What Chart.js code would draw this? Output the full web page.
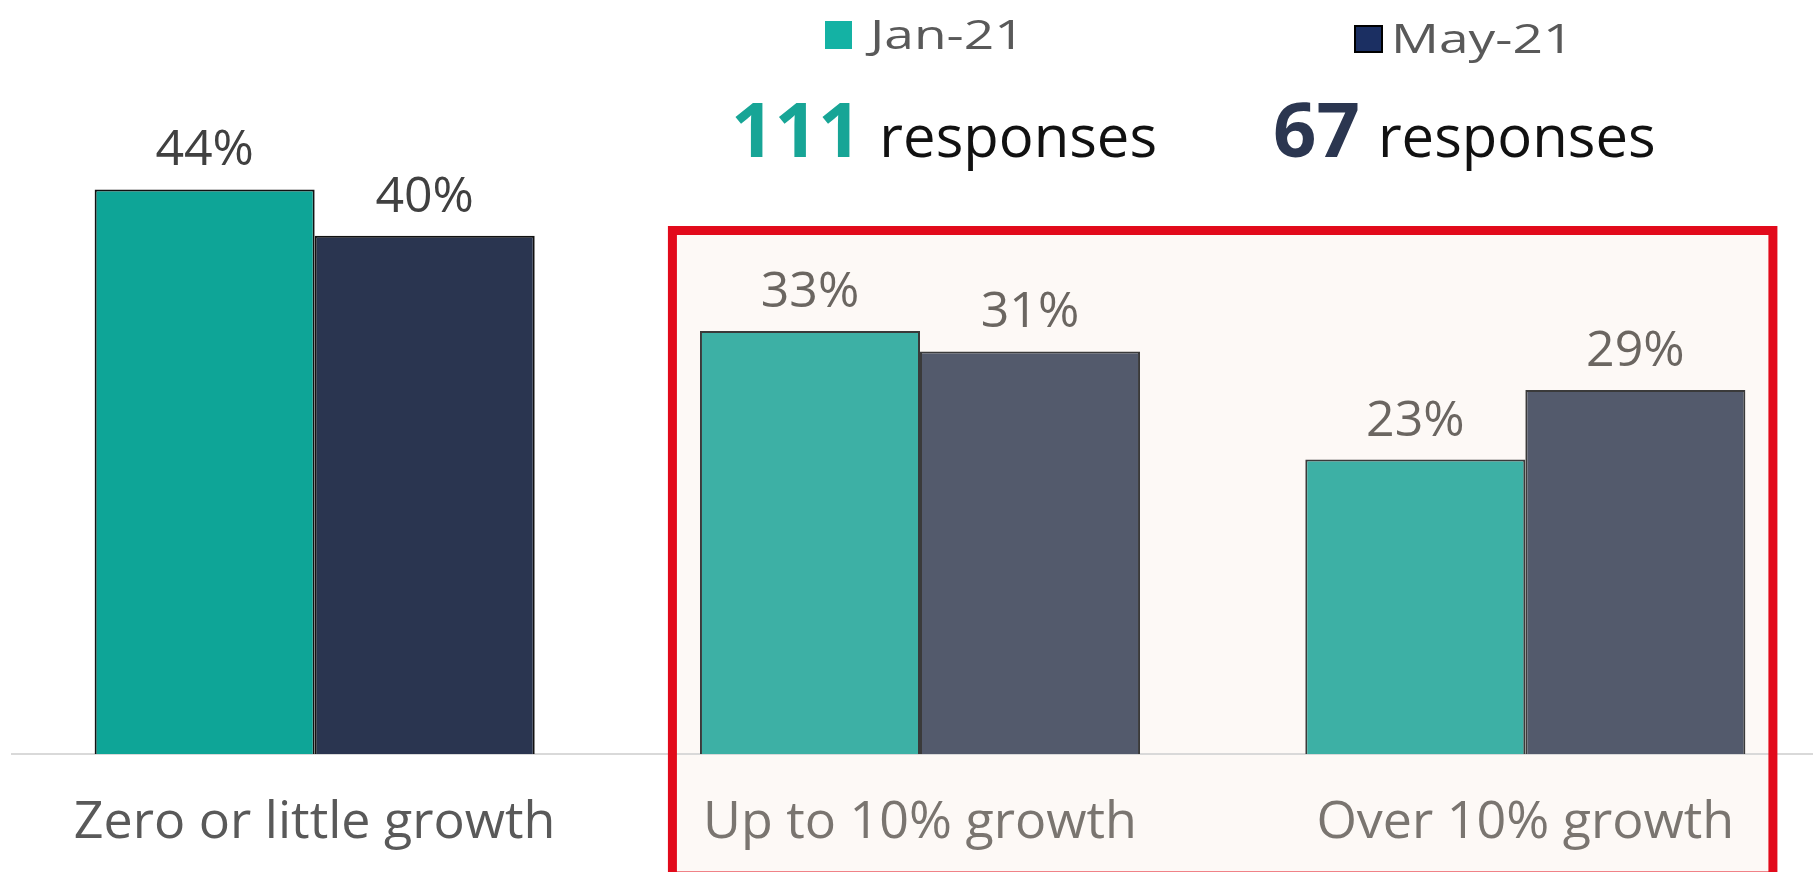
<!DOCTYPE html>
<html>
<head>
<meta charset="utf-8">
<script src="https://cdn.jsdelivr.net/npm/chart.js@4.4.1/dist/chart.umd.min.js"></script>
<style>
  html, body { margin: 0; padding: 0; background: #fff; overflow: hidden; }
  #wrap { width: 1828px; height: 872px; }
</style>
</head>
<body>
<div id="wrap"><canvas id="growthChart" width="1828" height="872"></canvas></div>
<script>
// ==== Data ====
const categories = ['Zero or little growth', 'Up to 10% growth', 'Over 10% growth'];
const seriesNames = ['Jan-21', 'May-21'];
const janValues = [43.9, 32.9, 22.9];
const mayValues = [40.3, 31.3, 28.3];
const janLabels = ['44%', '33%', '23%'];
const mayLabels = ['40%', '31%', '29%'];
const responseCounts = [111, 67];

const FONT = "'Open Sans', 'DejaVu Sans', sans-serif";

// red highlight box around the last two categories
function boxRect(chart) {
    const x = chart.scales.x;
    const step = x.getPixelForValue(1) - x.getPixelForValue(0);
    return {
        left: x.getPixelForValue(1) - step * 0.409,
        right: x.getPixelForValue(2) + step * 0.409,
        top: 230.5,
        bottom: chart.height + 4
    };
}

const decorPlugin = {
    id: 'decor',
    beforeDraw(chart) {
        const c = chart.ctx;
        c.save();
        c.fillStyle = '#ffffff';
        c.fillRect(0, 0, chart.width, chart.height);
        const b = boxRect(chart);
        c.fillStyle = '#fdf9f6';
        c.fillRect(b.left, b.top, b.right - b.left, b.bottom - b.top);
        c.restore();
    },
    afterDatasetsDraw(chart) {
        // value labels above bars
        const c = chart.ctx;
        const labelSets = [janLabels, mayLabels];
        c.save();
        c.font = '50px ' + FONT;
        c.textAlign = 'center';
        c.textBaseline = 'alphabetic';
        chart.data.datasets.forEach((ds, i) => {
            chart.getDatasetMeta(i).data.forEach((bar, j) => {
                c.fillStyle = j === 0 ? '#404040' : '#6b6661';
                c.fillText(labelSets[i][j], bar.x, bar.y - 24);
            });
        });
        c.restore();
    },
    afterDraw(chart) {
        const c = chart.ctx;
        c.save();
        // box border
        const b = boxRect(chart);
        c.strokeStyle = '#e20a1b';
        c.lineWidth = 9;
        c.strokeRect(b.left, b.top, b.right - b.left, b.bottom - b.top);

        // legend
        const legend = [
            { x: 825, y: 21, w: 27, h: 28, gap: 18, fill: '#14b2a4', stroke: '#14b2a4' },
            { x: 1354, y: 25, w: 29, h: 28, gap: 8, fill: '#1b2f62', stroke: '#000000' }
        ];
        legend.forEach((it, i) => {
            c.fillStyle = it.fill;
            c.fillRect(it.x, it.y, it.w, it.h);
            c.strokeStyle = it.stroke;
            c.lineWidth = 2;
            c.strokeRect(it.x + 1, it.y + 1, it.w - 2, it.h - 2);
            c.save();
            c.translate(it.x + it.w + it.gap, it.y + it.h);
            c.scale(1.3, 1);
            c.font = '41px ' + FONT;
            c.fillStyle = '#595959';
            c.textBaseline = 'alphabetic';
            c.fillText(seriesNames[i], 0, 0);
            c.restore();
        });

        // response counts
        const resp = [
            { x: 731, color: '#17a596' },
            { x: 1273, color: '#2b3650' }
        ];
        c.textBaseline = 'alphabetic';
        c.textAlign = 'left';
        resp.forEach((r, i) => {
            c.font = 'bold 76px ' + FONT;
            c.fillStyle = r.color;
            const num = String(responseCounts[i]);
            c.fillText(num, r.x, 157);
            const w = c.measureText(num).width;
            c.font = '58px ' + FONT;
            c.fillStyle = '#111111';
            c.fillText('responses', r.x + w + 18, 157);
        });
        c.restore();
    }
};

// ==== Chart ====
const ctx = document.getElementById('growthChart').getContext('2d');
const growthChart = new Chart(ctx, {
    type: 'bar',
    data: {
        labels: categories,
        datasets: [
            {
                label: seriesNames[0],
                data: janValues,
                backgroundColor: ['#0ea597', '#3db0a5', '#3db0a5'],
                borderColor: ['#111111', '#3a3a3a', '#3a3a3a'],
                borderWidth: 2
            },
            {
                label: seriesNames[1],
                data: mayValues,
                backgroundColor: ['#2a3550', '#535a6c', '#535a6c'],
                borderColor: ['#111111', '#3a3a3a', '#3a3a3a'],
                borderWidth: 2
            }
        ]
    },
    options: {
        responsive: false,
        animation: false,
        layout: { padding: { left: 12, right: 0, top: 111, bottom: 0 } },
        datasets: {
            bar: { categoryPercentage: 0.727, barPercentage: 1.0 }
        },
        plugins: {
            legend: { display: false },
            tooltip: { enabled: false }
        },
        scales: {
            x: {
                grid: { display: false, drawTicks: false },
                border: { display: true, color: '#d9d9d9', width: 2 },
                ticks: {
                    padding: 38,
                    font: { family: FONT, size: 52 },
                    color: (c) => c.index === 0 ? '#595959' : '#7a7570'
                },
                afterFit(scale) { scale.height = 118; }
            },
            y: {
                display: false,
                min: 0,
                max: 50
            }
        }
    },
    plugins: [decorPlugin]
});
</script>
</body>
</html>
